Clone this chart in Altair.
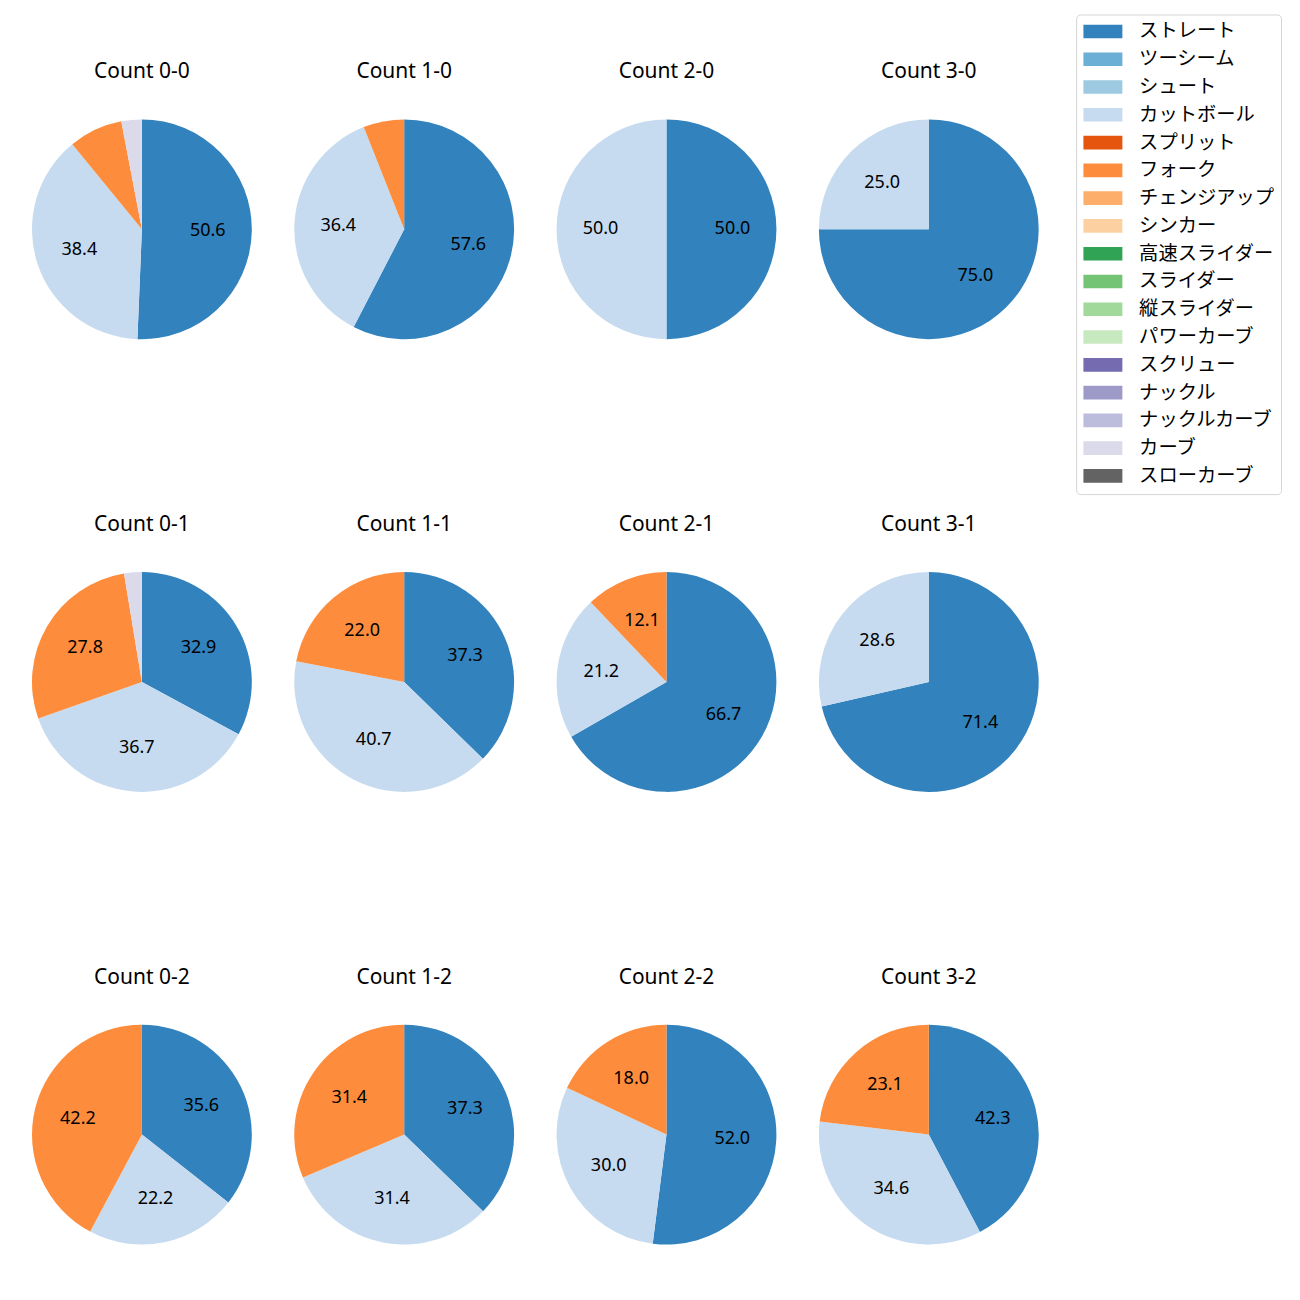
import altair as alt
import pandas as pd

pitch_types = ["ストレート", "ツーシーム", "シュート", "カットボール", "スプリット", "フォーク",
               "チェンジアップ", "シンカー", "高速スライダー", "スライダー", "縦スライダー",
               "パワーカーブ", "スクリュー", "ナックル", "ナックルカーブ", "カーブ", "スローカーブ"]
colors = ["#3182bd", "#6baed6", "#9ecae1", "#c6dbef", "#e6550d", "#fd8d3c", "#fdae6b", "#fdd0a2",
          "#31a354", "#74c476", "#a1d99b", "#c7e9c0", "#756bb1", "#9e9ac8", "#bcbddc", "#dadaeb",
          "#636363"]

counts = ["0-0", "1-0", "2-0", "3-0", "0-1", "1-1", "2-1", "3-1", "0-2", "1-2", "2-2", "3-2"]
straight = [50.6, 57.6, 50.0, 75.0, 32.9, 37.3, 66.7, 71.4, 35.6, 37.3, 52.0, 42.3]
cutball = [38.4, 36.4, 50.0, 25.0, 36.7, 40.7, 21.2, 28.6, 22.2, 31.4, 30.0, 34.6]
fork = [7.9, 6.0, 0.0, 0.0, 27.8, 22.0, 12.1, 0.0, 42.2, 31.4, 18.0, 23.1]
curve = [3.0, 0.0, 0.0, 0.0, 2.6, 0.0, 0.0, 0.0, 0.0, 0.0, 0.0, 0.0]

series = {"ストレート": straight, "カットボール": cutball, "フォーク": fork, "カーブ": curve}

rows = []
for i, c in enumerate(counts):
    for name, vals in series.items():
        v = vals[i]
        if v > 0:
            rows.append({"count": c, "pitch": name, "value": v,
                         "idx": pitch_types.index(name),
                         "label": f"{v:.1f}" if v >= 10 else ""})
df = pd.DataFrame(rows)

JP_FONT = "Noto Sans CJK JP"
FONT = "Noto Sans"

legend = alt.Legend(
    title=None, orient="none", legendX=1045, legendY=-105,
    symbolType="M-1,-0.7H3V0.7H-1Z", symbolSize=380, symbolStrokeWidth=0,
    labelFont=JP_FONT, labelFontSize=19.3, labelColor="black", rowPadding=6.8,
    labelOffset=36, padding=7, fillColor="white", strokeColor="#d5d5d5",
    cornerRadius=4, symbolOpacity=1, values=pitch_types,
)

def panel(c):
    base = alt.Chart(df).transform_filter(alt.datum.count == c).encode(
        theta=alt.Theta("value:Q", stack=True),
        order=alt.Order("idx:Q", sort="ascending"),
    )
    arc = base.mark_arc(outerRadius=110).encode(
        color=alt.Color("pitch:N", scale=alt.Scale(domain=pitch_types, range=colors), legend=legend)
    )
    txt = base.mark_text(radius=66, font=FONT, fontSize=18, color="black").encode(text="label:N")
    return alt.layer(arc, txt).properties(
        width=220, height=220,
        title=alt.TitleParams(f"Count {c}", font=FONT, fontSize=21, fontWeight="normal",
                              anchor="middle", offset=37, color="black"),
    )

grid_rows = []
for r in range(3):
    grid_rows.append(alt.hconcat(*[panel(counts[r * 4 + k]) for k in range(4)], spacing=42.5))

chart = alt.vconcat(*grid_rows, spacing=175).resolve_scale(
    color="shared", theta="independent"
).properties(padding={"left": 24, "top": 5, "right": 10, "bottom": 10}).configure_view(stroke=None)

chart.save("out.html", embed_options={"renderer": "svg", "actions": False})
